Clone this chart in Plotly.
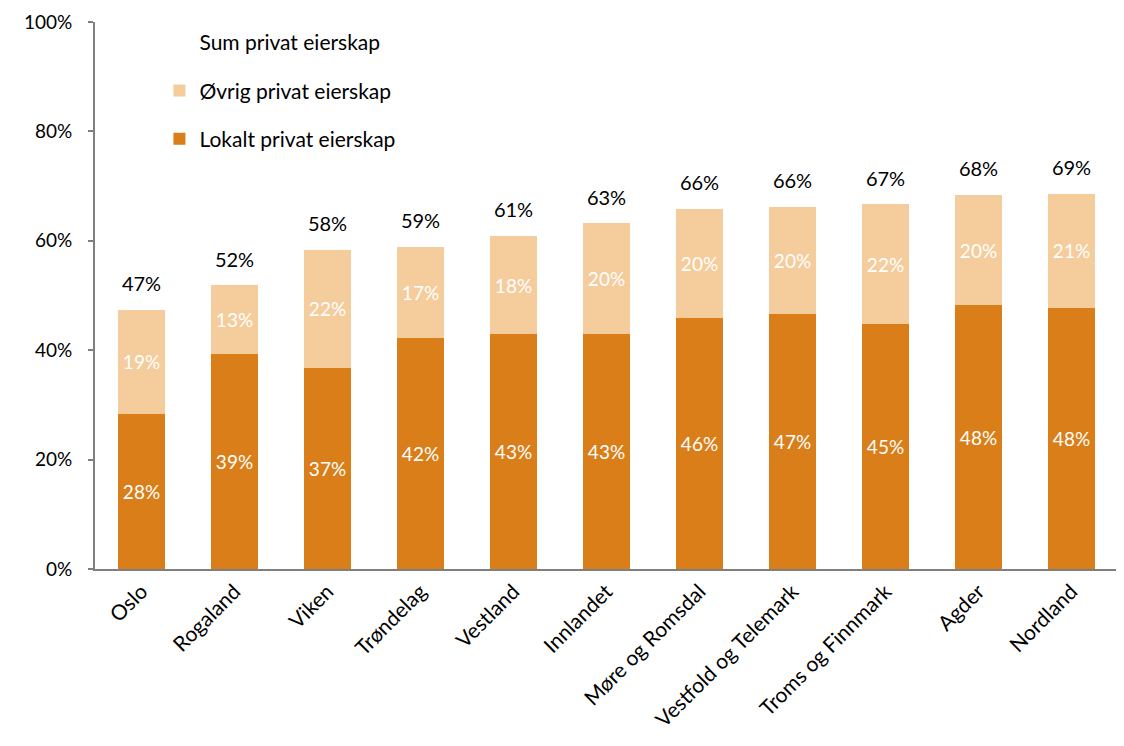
import plotly.graph_objects as go

categories = ["Oslo", "Rogaland", "Viken", "Trøndelag", "Vestland", "Innlandet",
              "Møre og Romsdal", "Vestfold og Telemark", "Troms og Finnmark", "Agder", "Nordland"]
lokalt = [28.4, 39.3, 36.8, 42.3, 42.9, 43.0, 45.8, 46.6, 44.8, 48.2, 47.7]
ovrig = [19.0, 12.6, 21.6, 16.6, 18.0, 20.2, 20.1, 19.6, 21.9, 20.2, 20.9]
total = [round(a + b, 1) for a, b in zip(lokalt, ovrig)]

y_ticks = [0, 20, 40, 60, 80, 100]
y_ticktext = [f"{v}%" for v in y_ticks]

DARK = "#D97E19"
LIGHT = "#F5CC9C"
FONT = "Lato, Carlito, Calibri, sans-serif"

fig = go.Figure()
fig.add_trace(go.Bar(
    x=categories, y=lokalt, name="Lokalt privat eierskap",
    marker=dict(color=DARK, line=dict(width=0)),
    text=lokalt, texttemplate="%{text:.0f}%", textposition="inside",
    insidetextanchor="middle", textangle=0, constraintext="none",
    insidetextfont=dict(color="white", size=19, family=FONT),
    legendgroup="a", legendrank=3, hoverinfo="skip",
))
fig.add_trace(go.Bar(
    x=categories, y=ovrig, name="Øvrig privat eierskap",
    marker=dict(color=LIGHT, line=dict(width=0)),
    text=ovrig, texttemplate="%{text:.0f}%", textposition="inside",
    insidetextanchor="middle", textangle=0, constraintext="none",
    insidetextfont=dict(color="white", size=19, family=FONT),
    legendgroup="b", legendrank=2, hoverinfo="skip",
))
fig.add_trace(go.Scatter(
    x=categories, y=total, mode="markers+text", name="Sum privat eierskap",
    marker=dict(size=20, color="rgba(0,0,0,0)"),
    text=total, texttemplate="%{text:.0f}%", textposition="top center",
    textfont=dict(color="black", size=20, family=FONT),
    legendgroup="c", showlegend=False, hoverinfo="skip",
))
fig.add_trace(go.Scatter(
    x=[None], y=[None], mode="markers", name="Sum privat eierskap",
    marker=dict(size=1, color="rgba(0,0,0,0)"),
    legendgroup="c", legendrank=1, showlegend=True,
))

fig.update_layout(
    width=1124, height=746,
    barmode="stack", bargap=0.5,
    paper_bgcolor="white", plot_bgcolor="white",
    margin=dict(l=87, r=14, t=14, b=185),
    font=dict(family=FONT, size=20, color="black"),
    showlegend=True,
    legend=dict(x=0.063, y=1.0, xanchor="left", yanchor="top",
                traceorder="grouped", tracegroupgap=18,
                bgcolor="rgba(0,0,0,0)", font=dict(size=21, family=FONT),
                itemsizing="constant"),
    xaxis=dict(range=[-0.5, len(categories) - 0.5], automargin=False,
               showline=True, linecolor="#7F7F7F", linewidth=2, ticks="",
               tickangle=-45, tickfont=dict(size=21, family=FONT, color="black"),
               showgrid=False),
    yaxis=dict(range=[0, 100], tickvals=y_ticks, ticktext=y_ticktext,
               automargin=False,
               showline=True, linecolor="#7F7F7F", linewidth=2,
               ticks="outside", ticklen=5, tickcolor="#7F7F7F", tickwidth=2,
               ticklabelstandoff=12, ticklabeloverflow="allow",
               tickfont=dict(size=19, family=FONT, color="black"),
               showgrid=False, zeroline=False),
)

fig.write_html("out.html")
